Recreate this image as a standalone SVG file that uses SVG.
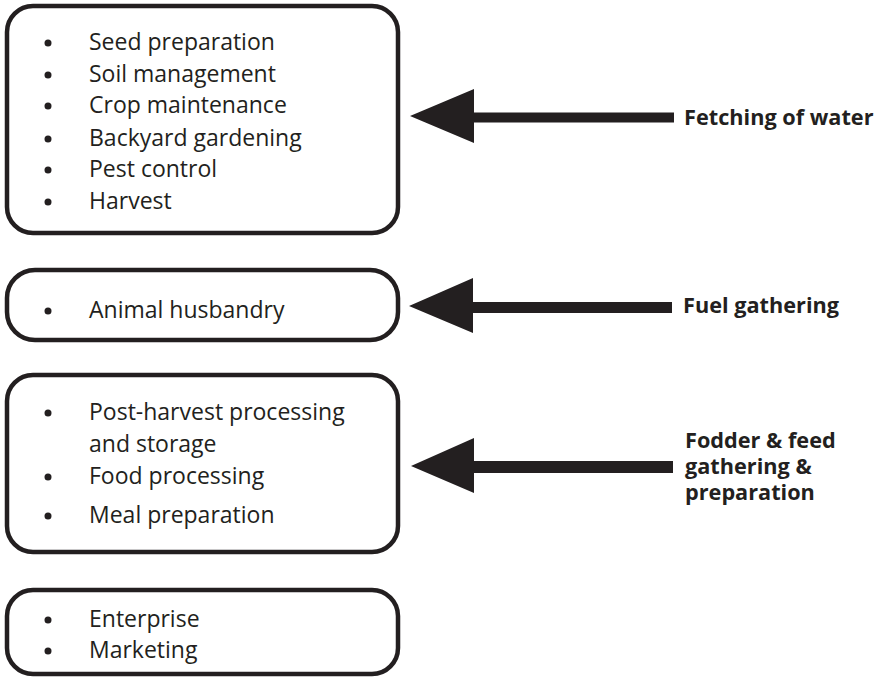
<svg xmlns="http://www.w3.org/2000/svg" width="883" height="678" viewBox="0 0 883 678">
<style>
.box{fill:#fff;stroke:#231f20;stroke-width:4.5}
.t{font-family:"Open Sans","Liberation Sans",sans-serif;font-size:23px;fill:#231f20}
.b{font-family:"Open Sans","Liberation Sans",sans-serif;font-size:21.7px;font-weight:bold;fill:#231f20}
.dot{fill:#231f20}
.arr{fill:#231f20}
</style>
<rect width="883" height="678" fill="#fff"/>
<g id="box1">
<rect class="box" x="7" y="6" width="391" height="227" rx="26"/>
<circle class="dot" cx="48" cy="43" r="3.5"/><text class="t" x="89" y="50">Seed preparation</text>
<circle class="dot" cx="48" cy="75" r="3.5"/><text class="t" x="89" y="82">Soil management</text>
<circle class="dot" cx="48" cy="106" r="3.5"/><text class="t" x="89" y="113">Crop maintenance</text>
<circle class="dot" cx="48" cy="139" r="3.5"/><text class="t" x="89" y="146">Backyard gardening</text>
<circle class="dot" cx="48" cy="170" r="3.5"/><text class="t" x="89" y="177">Pest control</text>
<circle class="dot" cx="48" cy="202" r="3.5"/><text class="t" x="89" y="209">Harvest</text>
</g>
<g id="box2">
<rect class="box" x="7" y="270" width="391" height="70" rx="28"/>
<circle class="dot" cx="48" cy="311" r="3.5"/><text class="t" x="89" y="318">Animal husbandry</text>
</g>
<g id="box3">
<rect class="box" x="7" y="375" width="391" height="177" rx="26"/>
<circle class="dot" cx="48" cy="413" r="3.5"/><text class="t" x="89" y="420">Post-harvest processing</text>
<text class="t" x="89" y="452">and storage</text>
<circle class="dot" cx="48" cy="477" r="3.5"/><text class="t" x="89" y="484">Food processing</text>
<circle class="dot" cx="48" cy="516" r="3.5"/><text class="t" x="89" y="523">Meal preparation</text>
</g>
<g id="box4">
<rect class="box" x="7" y="590" width="391" height="84" rx="26"/>
<circle class="dot" cx="48" cy="620" r="3.5"/><text class="t" x="89" y="627">Enterprise</text>
<circle class="dot" cx="48" cy="651" r="3.5"/><text class="t" x="89" y="658">Marketing</text>
</g>
<g id="label1"><text class="b" x="684" y="125">Fetching of water</text></g>
<g id="label2"><text class="b" x="683" y="313">Fuel gathering</text></g>
<g id="label3">
<text class="b" x="685" y="448">Fodder &amp; feed</text>
<text class="b" x="685" y="474">gathering &amp;</text>
<text class="b" x="685" y="500">preparation</text>
</g>
<g id="connectors">
<polygon class="arr" points="410,116 474,89 474,112.5 674,112.5 674,122.5 474,122.5 474,143"/>
<polygon class="arr" points="409,306 473,278 473,302 672,302 672,313 473,313 473,333"/>
<polygon class="arr" points="411,466 474,438 474,461 673,461 673,473 474,473 474,493"/>
</g>
</svg>
